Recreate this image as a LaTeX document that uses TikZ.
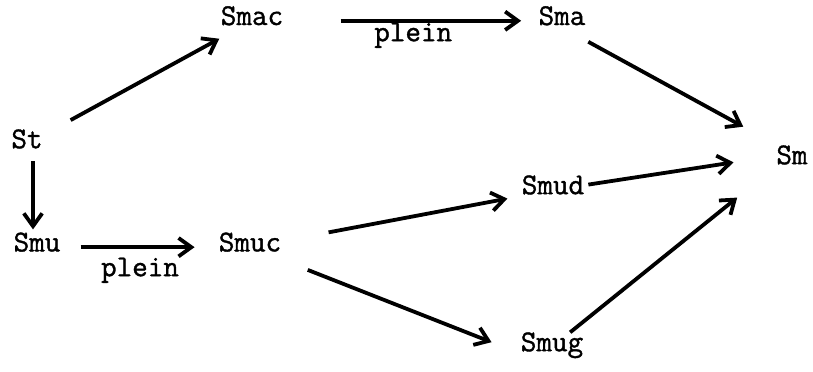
\documentclass[tikz,border=0pt]{standalone}
\usepackage{fontspec}
\usepackage{tikz}
\usetikzlibrary{arrows.meta}

\newfontfamily\machine{Latin Modern Mono}[FakeBold=1.2]

\begin{document}
\begin{tikzpicture}

\tikzstyle{every node} = [rectangle, inner sep=0pt, font=\fontsize{21.5}{26}\selectfont\machine, text height=.75em, text depth=.15em]
\tikzstyle{fleche} = [line width=2.7pt, -{Straight Barb[length=3.2mm,width=4.6mm]}]

\useasboundingbox (0,0) rectangle (20.325,9.3);

\node (st) at (0.675,5.7) {St};
\node (smu) at (0.925,3.12) {Smu};

\node (smac) at (6.3,8.78) {Smac};
\node (sma) at (14.05,8.78) {Sma};
\node (p1) at (10.33,8.375) {plein};

\node (smuc) at (6.25,3.12) {Smuc};
\node (p2) at (3.5,2.5) {plein};

\node (smud) at (13.825,4.55) {Smud};
\node (smug) at (13.8,0.625) {Smug};
\node (sm) at (19.8,5.3) {Sm};


\draw[fleche, shorten <=0.9cm, shorten >=0.59cm] (st) -- (smac);
\draw[fleche, shorten <=0.26cm, shorten >=0.28cm] ([xshift=.15cm]st.south) -- ([xshift=-.1cm]smu.north);
\draw[fleche, shorten <=0.5cm, shorten >=0.6cm] (smu) -- (smuc);
\draw[fleche, shorten <=1.43cm, shorten >=0.43cm] (smac) -- (sma);

\draw[fleche, shorten <=1.2cm, shorten >=0.36cm] (smuc) -- (smud);
\draw[fleche, shorten <=1.1cm, shorten >=0.78cm] (smuc) -- (smug.south west);

\draw[fleche, shorten <=0.75cm, shorten >=1.39cm] (sma.south) -- (sm.north);
\draw[fleche, shorten <=0.1cm, shorten >=1.48cm] (smud) -- (sm.north);
\draw[fleche, shorten <=0.32cm, shorten >=1.76cm] (smug) -- (sm.north);

\end{tikzpicture}
\end{document}
